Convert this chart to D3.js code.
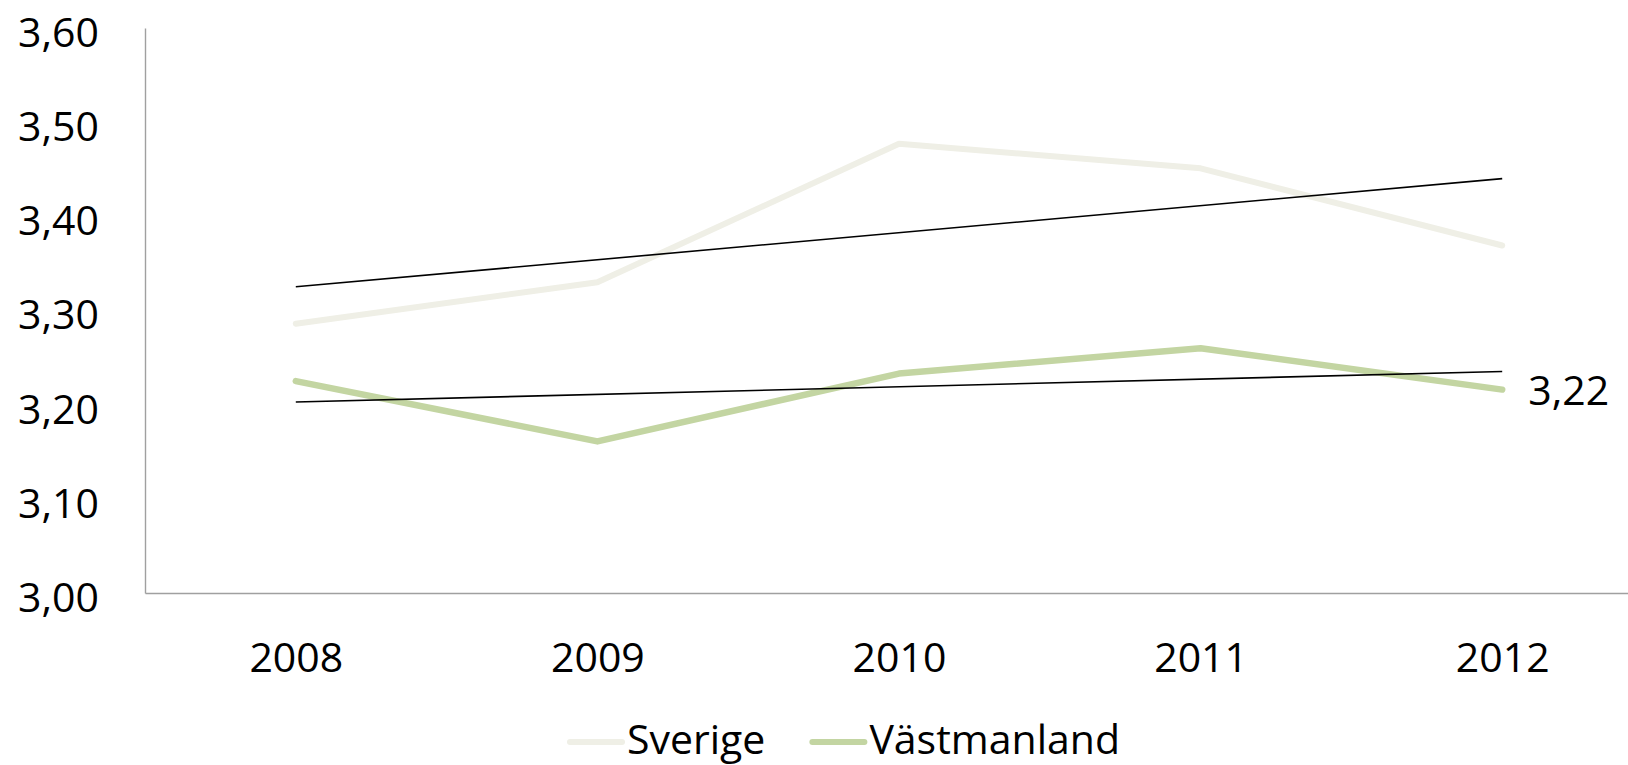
<!DOCTYPE html>
<html>
<head>
<meta charset="utf-8">
<script src="https://cdn.jsdelivr.net/npm/d3@7"></script>
<style>
  body { margin: 0; background: #fff; }
  svg text { font-family: 'Open Sans', sans-serif; fill: #000; }
</style>
</head>
<body>
<div id="chart"></div>
<script>
// chart data
const years = ['2008', '2009', '2010', '2011', '2012'];
const sverige = [3.286, 3.330, 3.477, 3.451, 3.369];
const vastmanland = [3.225, 3.161, 3.233, 3.260, 3.216];
const yTicks = [3.0, 3.1, 3.2, 3.3, 3.4, 3.5, 3.6];
const seriesNames = ['Sverige', 'Västmanland'];
const seriesColors = ['#EFEFE6', '#C3D5A2'];

const width = 1628, height = 765;
const fontSize = 41;

const svg = d3.select('#chart').append('svg')
  .attr('width', width)
  .attr('height', height);

// x extends past the right edge, like the original
const x = d3.scalePoint()
  .domain(years)
  .range([145, 1653])
  .padding(0.5);

const y = d3.scaleLinear()
  .domain([3.0, 3.6])
  .range([593, 28]);

const fmt = v => d3.format('.2f')(v).replace('.', ',');

// axes
const yAxis = svg.append('g')
  .attr('transform', 'translate(145,0)')
  .call(d3.axisLeft(y).tickValues(yTicks).tickSize(0).tickPadding(46).tickFormat(fmt));

const xAxis = svg.append('g')
  .attr('transform', 'translate(0,593)')
  .call(d3.axisBottom(x).tickSize(0).tickPadding(0));

[yAxis, xAxis].forEach(g => {
  g.select('.domain').attr('stroke', '#A0A0A0').attr('stroke-width', 1.4);
  g.selectAll('text').style('font-size', fontSize + 'px').attr('fill', '#000');
});
yAxis.selectAll('text').attr('dy', '0.45em');
xAxis.selectAll('text').attr('y', 79).attr('dy', 0);

// series lines
const line = d3.line()
  .x((d, i) => x(years[i]))
  .y(d => y(d));

const allSeries = [sverige, vastmanland];

allSeries.forEach((values, s) => {
  svg.append('path')
    .datum(values)
    .attr('d', line)
    .attr('fill', 'none')
    .attr('stroke', seriesColors[s])
    .attr('stroke-width', s === 0 ? 6 : 6.5)
    .attr('stroke-linecap', 'round')
    .attr('stroke-linejoin', 'round');
});

// linear trendlines (least squares over the series)
allSeries.forEach(values => {
  const n = values.length;
  const mx = d3.mean(values, (d, i) => i);
  const my = d3.mean(values);
  const slope = d3.sum(values, (d, i) => (i - mx) * (d - my)) / d3.sum(values, (d, i) => (i - mx) * (i - mx));
  const ends = [0, n - 1].map(i => ({ i: i, v: my + slope * (i - mx) }));

  svg.append('path')
    .datum(ends)
    .attr('d', d3.line().x(d => x(years[d.i])).y(d => y(d.v)))
    .attr('fill', 'none')
    .attr('stroke', '#000')
    .attr('stroke-width', 1.6);
});

// data label on the last point of Västmanland
const last = vastmanland.length - 1;
svg.append('text')
  .attr('x', x(years[last]) + 26)
  .attr('y', y(vastmanland[last]))
  .attr('dy', '0.38em')
  .style('font-size', fontSize + 'px')
  .text(fmt(vastmanland[last]));

// legend
const legend = svg.append('g').attr('transform', 'translate(567,742)');
let lx = 0;
seriesNames.forEach((name, i) => {
  legend.append('line')
    .attr('x1', lx + 3).attr('x2', lx + 55)
    .attr('y1', 0).attr('y2', 0)
    .attr('stroke', seriesColors[i])
    .attr('stroke-width', 6)
    .attr('stroke-linecap', 'round');
  const t = legend.append('text')
    .attr('x', lx + 60)
    .attr('y', 12)
    .style('font-size', fontSize + 'px')
    .text(name);
  lx += 60 + t.node().getComputedTextLength() + 44;
});
</script>
</body>
</html>
